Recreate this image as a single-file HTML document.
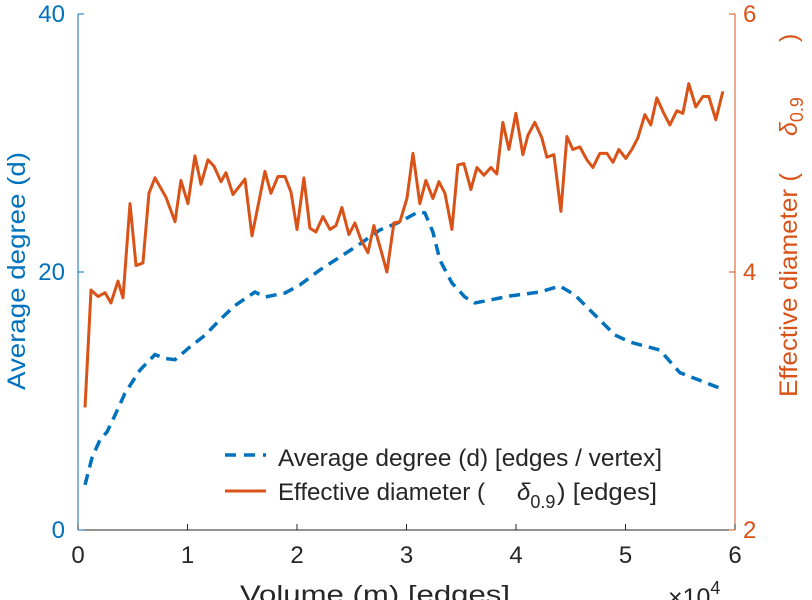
<!DOCTYPE html>
<html><head><meta charset="utf-8">
<style>
body{margin:0;background:#fff;}
svg{display:block;font-family:"Liberation Sans",sans-serif;}
</style></head>
<body>
<svg id="chart" width="812" height="600" viewBox="0 0 812 600" xmlns="http://www.w3.org/2000/svg"></svg>
<script>
const volume = [640,1190,1830,2470,3010,3650,4110,4750,5300,5930,6480,7030,8030,8860,9400,10040,10680,11230,11870,12420,13060,13510,14150,15250,15890,17070,17620,18260,18900,19450,20000,20630,21180,21730,22370,23010,23560,24100,24740,25290,25840,26480,27020,27660,28210,28850,29400,30040,30590,31220,31770,32410,32960,33510,34150,34690,35240,35880,36430,37070,37710,38250,38800,39350,39990,40630,41090,41720,42360,42820,43460,44100,44650,45190,45830,46470,47020,47660,48300,48850,49390,50030,50580,51130,51770,52310,52860,53500,54050,54690,55240,55780,56420,57060,57610,58250,58890];
const effDiameter = [2.95,3.86,3.81,3.84,3.76,3.93,3.80,4.53,4.05,4.07,4.61,4.73,4.58,4.39,4.71,4.53,4.90,4.68,4.87,4.82,4.70,4.77,4.60,4.72,4.28,4.78,4.61,4.74,4.74,4.62,4.33,4.73,4.34,4.31,4.43,4.33,4.36,4.50,4.29,4.38,4.25,4.15,4.36,4.17,4.00,4.38,4.39,4.57,4.92,4.53,4.71,4.57,4.70,4.61,4.33,4.83,4.84,4.64,4.81,4.75,4.81,4.76,5.16,4.95,5.23,4.91,5.06,5.16,5.04,4.89,4.91,4.47,5.05,4.95,4.97,4.87,4.81,4.92,4.92,4.85,4.95,4.88,4.95,5.04,5.22,5.14,5.35,5.23,5.14,5.25,5.23,5.46,5.28,5.36,5.36,5.18,5.40];
const degVolume = [640,1280,2010,2650,3380,4290,5660,7030,7940,8860,10230,11600,12960,14330,16160,17070,18900,20270,22090,23920,25740,27570,29400,31040,31680,32410,33050,34150,35330,36250,37620,39440,42180,44010,45380,46750,47660,49030,50400,53140,54960,56790,58610];
const avgDegree = [3.5,5.6,7.0,7.6,8.9,10.6,12.4,13.6,13.3,13.2,14.2,15.1,16.3,17.4,18.45,18.06,18.37,19.0,20.16,21.16,22.17,23.26,23.88,24.65,24.58,23.1,20.93,19.15,18.06,17.6,17.83,18.14,18.45,18.91,18.22,17.05,16.28,15.12,14.57,13.95,12.2,11.6,11.0];
const xTicks = [0,1,2,3,4,5,6];
const leftTicks = [0,20,40];
const rightTicks = [2,4,6];

const L=78,R=735,T=14,B=530;
const BLUE="#0072BD",ORANGE="#D95319",GRAY="#262626";
const xs=v=>L+(v/60000)*(R-L);
const yl=v=>B-(v/40)*(B-T);
const yr=v=>B-((v-2)/4)*(B-T);
const svg=document.getElementById('chart');
const NS="http://www.w3.org/2000/svg";
function mk(tag,attrs,parent){const e=document.createElementNS(NS,tag);for(const k in attrs)e.setAttribute(k,attrs[k]);(parent||svg).appendChild(e);return e;}

let a=mk('line',{x1:L,y1:B,x2:R,y2:B,stroke:GRAY,'stroke-width':1});


a=mk('line',{x1:L,y1:T,x2:L,y2:B,stroke:BLUE,'stroke-width':1});


a=mk('line',{x1:R,y1:T,x2:R,y2:B,stroke:ORANGE,'stroke-width':1});



xTicks.forEach(t=>{
  const x=xs(t*10000);
  mk('line',{x1:x,y1:B,x2:x,y2:B-6,stroke:GRAY});
  const tx=mk('text',{x:x,y:B+33,'text-anchor':'middle','font-size':24,fill:GRAY});
  tx.textContent=t;
  
  
});
leftTicks.forEach(t=>{
  const y=yl(t);
  mk('line',{x1:L,y1:y,x2:L+6,y2:y,stroke:BLUE});
  const tx=mk('text',{x:L-13,y:y+8,'text-anchor':'end','font-size':24,fill:BLUE});
  tx.textContent=t;
  
  
});
rightTicks.forEach(t=>{
  const y=yr(t);
  mk('line',{x1:R,y1:y,x2:R-6,y2:y,stroke:ORANGE});
  const tx=mk('text',{x:R+8,y:y+8,'text-anchor':'start','font-size':24,fill:ORANGE});
  tx.textContent=t;
  
  
});

let p=mk('polyline',{points:degVolume.map((v,i)=>xs(v)+','+yl(avgDegree[i])).join(' '),fill:'none',stroke:BLUE,'stroke-width':3.5,'stroke-dasharray':'11,7'});


p=mk('polyline',{points:volume.map((v,i)=>xs(v)+','+yr(effDiameter[i])).join(' '),fill:'none',stroke:ORANGE,'stroke-width':3,'stroke-linejoin':'round'});



let t=mk('text',{x:0,y:0,'text-anchor':'middle','font-size':25,fill:BLUE,textLength:238,lengthAdjust:'spacingAndGlyphs',transform:'translate(25,271) rotate(-90)'});
t.textContent='Average degree (d)';


t=mk('text',{x:-397,y:0,'text-anchor':'start','font-size':25,fill:ORANGE,transform:'translate(797,0) rotate(-90)'});
t.innerHTML='<tspan textLength="224" lengthAdjust="spacingAndGlyphs">Effective diameter (</tspan><tspan x="-136" font-style="italic">δ</tspan><tspan font-size="18" dy="6">0.9</tspan><tspan dy="-6" x="-42">)</tspan>';


t=mk('text',{x:240,y:603,'font-size':25,fill:GRAY,textLength:270,lengthAdjust:'spacingAndGlyphs'});
t.textContent='Volume (m) [edges]';


t=mk('text',{x:668,y:606,'font-size':25,fill:GRAY});
t.innerHTML='×10<tspan font-size="18" dy="-12">4</tspan>';



const lg=mk('g',{});


mk('line',{x1:225,y1:455,x2:266,y2:455,stroke:BLUE,'stroke-width':3.5,'stroke-dasharray':'11,8'},lg);
let lt=mk('text',{x:278,y:466,'font-size':24,fill:GRAY,textLength:384,lengthAdjust:'spacingAndGlyphs'},lg);
lt.textContent='Average degree (d) [edges / vertex]';


mk('line',{x1:225,y1:491,x2:266,y2:491,stroke:ORANGE,'stroke-width':3},lg);
lt=mk('text',{x:278,y:500,'font-size':24,fill:GRAY},lg);
lt.innerHTML='<tspan textLength="207" lengthAdjust="spacingAndGlyphs">Effective diameter (</tspan><tspan x="517" font-style="italic">δ</tspan><tspan font-size="18" dy="8">0.9</tspan><tspan dy="-8" x="557" textLength="100" lengthAdjust="spacingAndGlyphs">) [edges]</tspan>';


</script>
</body></html>
